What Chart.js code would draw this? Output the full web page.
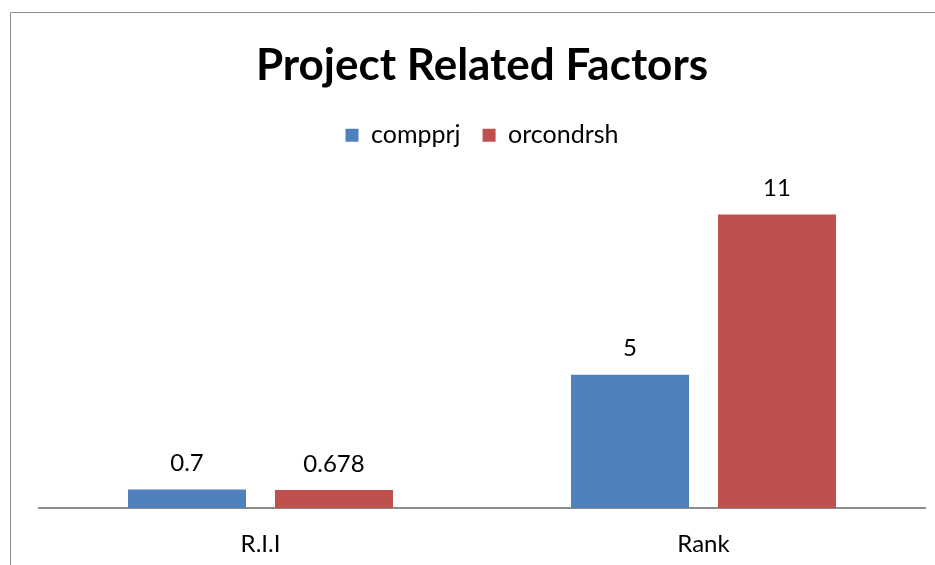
<!DOCTYPE html>
<html>
<head>
<meta charset="utf-8">
<script src="https://cdn.jsdelivr.net/npm/chart.js@4.4.0/dist/chart.umd.min.js"></script>
<style>
html,body{margin:0;padding:0;background:#fff;}
#wrap{width:935px;height:565px;position:relative;}
</style>
</head>
<body>
<div id="wrap"><canvas id="c" width="935" height="565"></canvas></div>
<script>
const categories = ["R.I.I", "Rank"];
const compprj = [0.7, 5];
const orcondrsh = [0.678, 11];
const seriesNames = ["compprj", "orcondrsh"];
const titleText = "Project Related Factors";

const FONT = 'Lato, "Open Sans", sans-serif';

const frame = {
  id: 'frame',
  beforeDraw(chart) {
    const ctx = chart.ctx;
    ctx.save();
    ctx.fillStyle = '#fff';
    ctx.fillRect(0, 0, chart.width, chart.height);
    ctx.strokeStyle = '#8c8c8c';
    ctx.lineWidth = 1;
    ctx.beginPath();
    ctx.moveTo(10.5, chart.height);
    ctx.lineTo(10.5, 12.5);
    ctx.lineTo(chart.width, 12.5);
    ctx.stroke();
    ctx.restore();
  }
};

const legendSpace = {
  id: 'legendSpace',
  beforeInit(chart) {
    const orig = chart.legend.fit;
    chart.legend.fit = function () {
      orig.call(this);
      this.height += 30;
    };
  }
};

const valueLabels = {
  id: 'valueLabels',
  afterDatasetsDraw(chart) {
    const ctx = chart.ctx;
    ctx.save();
    ctx.font = '24px ' + FONT;
    ctx.fillStyle = '#000';
    ctx.textAlign = 'center';
    ctx.textBaseline = 'middle';
    chart.data.datasets.forEach((ds, i) => {
      const meta = chart.getDatasetMeta(i);
      meta.data.forEach((bar, j) => {
        ctx.fillText(String(ds.data[j]), bar.x, bar.y - 26);
      });
    });
    ctx.restore();
  }
};

new Chart(document.getElementById('c'), {
  type: 'bar',
  data: {
    labels: categories,
    datasets: [
      { label: seriesNames[0], data: compprj, backgroundColor: '#4F81BD', borderWidth: 0 },
      { label: seriesNames[1], data: orcondrsh, backgroundColor: '#C0504D', borderWidth: 0 }
    ]
  },
  options: {
    responsive: false,
    animation: false,
    devicePixelRatio: 1,
    categoryPercentage: 0.6637,
    barPercentage: 0.8027,
    layout: { padding: { left: 39, right: 10, top: 0, bottom: -8 } },
    plugins: {
      title: {
        display: true,
        text: titleText,
        color: '#000',
        font: { family: FONT, size: 44, weight: 'bold' },
        padding: { top: 39, bottom: 9 }
      },
      legend: {
        display: true,
        position: 'top',
        labels: {
          color: '#000',
          font: { family: FONT, size: 25 },
          boxWidth: 13,
          boxHeight: 13,
          padding: 22
        }
      },
      tooltip: { enabled: false }
    },
    scales: {
      y: { display: false, min: 0, max: 12 },
      x: {
        grid: { display: false },
        border: { display: true, color: '#8c8c8c', width: 2 },
        ticks: { color: '#000', font: { family: FONT, size: 24 }, padding: 14 }
      }
    }
  },
  plugins: [frame, legendSpace, valueLabels]
});
</script>
</body>
</html>
